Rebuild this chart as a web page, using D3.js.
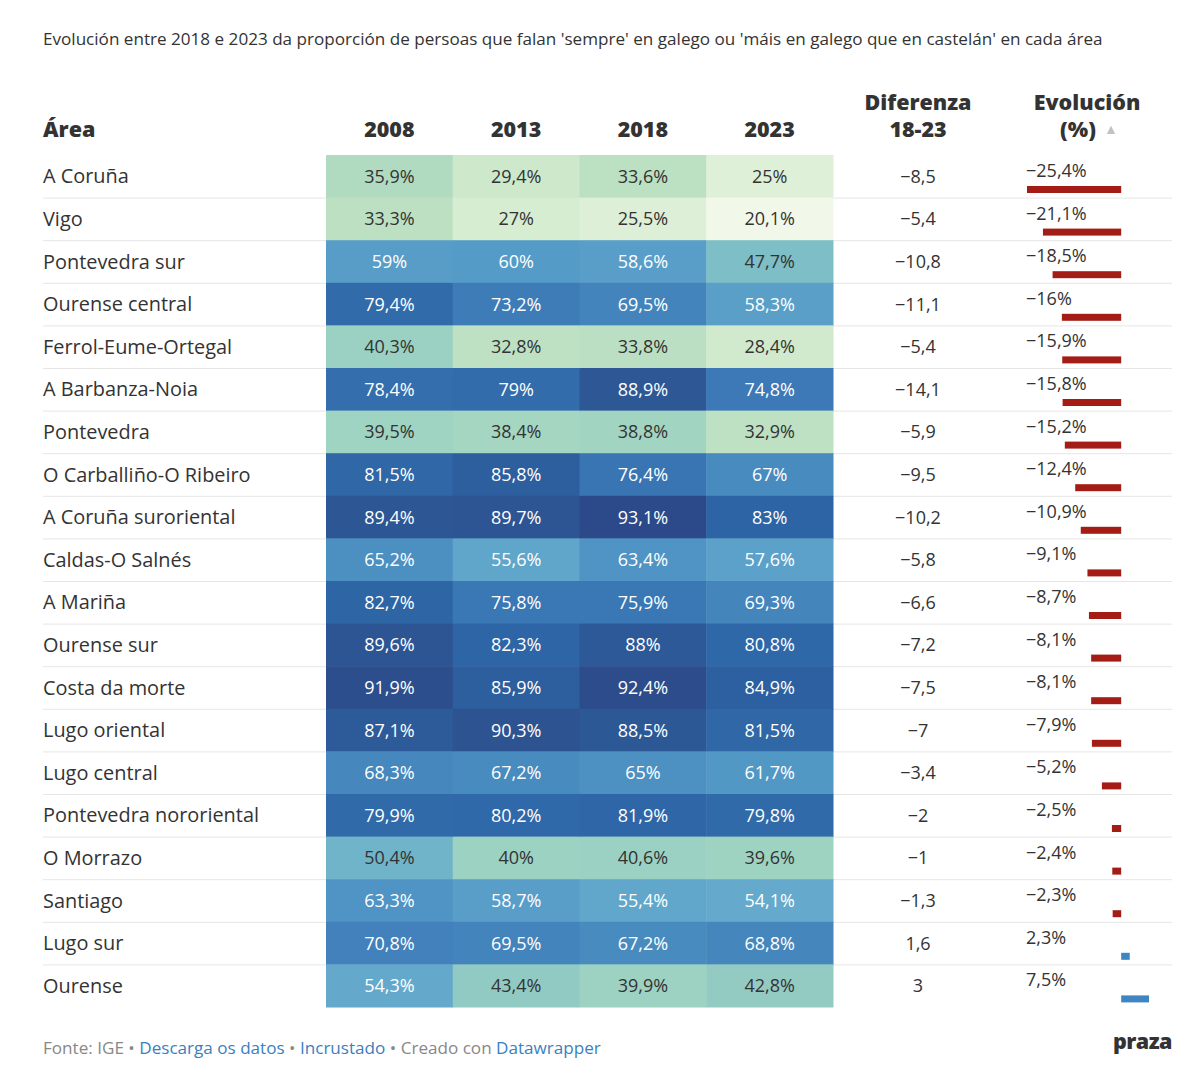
<!DOCTYPE html>
<html lang="gl">
<head>
  <meta charset="UTF-8">
  <title>Galego por áreas</title>
  <style>
    body { margin: 0; background: #fff; }
    svg { display: block; font-family: "Open Sans", "Noto Sans", sans-serif; }
    .sep { stroke: #e6e6e6; stroke-width: 1px; }
    .head { font-weight: 800; font-size: 21.5px; fill: #333; }
  </style>
</head>
<body>
<svg width="1200" height="1081"></svg>

<script src="https://d3js.org/d3.v7.min.js"></script>
<script>
  // datos
  const areas = ["A Coruña", "Vigo", "Pontevedra sur", "Ourense central", "Ferrol-Eume-Ortegal",
    "A Barbanza-Noia", "Pontevedra", "O Carballiño-O Ribeiro", "A Coruña suroriental", "Caldas-O Salnés",
    "A Mariña", "Ourense sur", "Costa da morte", "Lugo oriental", "Lugo central",
    "Pontevedra nororiental", "O Morrazo", "Santiago", "Lugo sur", "Ourense"];
  const years = ["2008", "2013", "2018", "2023"];
  const v2008 = [35.9, 33.3, 59, 79.4, 40.3, 78.4, 39.5, 81.5, 89.4, 65.2, 82.7, 89.6, 91.9, 87.1, 68.3, 79.9, 50.4, 63.3, 70.8, 54.3];
  const v2013 = [29.4, 27, 60, 73.2, 32.8, 79, 38.4, 85.8, 89.7, 55.6, 75.8, 82.3, 85.9, 90.3, 67.2, 80.2, 40, 58.7, 69.5, 43.4];
  const v2018 = [33.6, 25.5, 58.6, 69.5, 33.8, 88.9, 38.8, 76.4, 93.1, 63.4, 75.9, 88, 92.4, 88.5, 65, 81.9, 40.6, 55.4, 67.2, 39.9];
  const v2023 = [25, 20.1, 47.7, 58.3, 28.4, 74.8, 32.9, 67, 83, 57.6, 69.3, 80.8, 84.9, 81.5, 61.7, 79.8, 39.6, 54.1, 68.8, 42.8];
  const diferenza = [-8.5, -5.4, -10.8, -11.1, -5.4, -14.1, -5.9, -9.5, -10.2, -5.8, -6.6, -7.2, -7.5, -7, -3.4, -2, -1, -1.3, 1.6, 3];
  const evolucion = [-25.4, -21.1, -18.5, -16, -15.9, -15.8, -15.2, -12.4, -10.9, -9.1, -8.7, -8.1, -8.1, -7.9, -5.2, -2.5, -2.4, -2.3, 2.3, 7.5];

  const series = [v2008, v2013, v2018, v2023];

  const svg = d3.select("svg");
  const gl = d3.formatLocale({ decimal: ",", thousands: ".", grouping: [3], currency: ["", " €"], minus: "\u2212" });
  const fmt = gl.format(".1~f");

  // escalas
  const rowTop = 155, rowH = 42.6;
  const y = d3.scaleBand().domain(d3.range(areas.length))
    .range([rowTop, rowTop + rowH * areas.length]).padding(0);
  const xCol = d3.scaleBand().domain(years).range([326, 833]).padding(0);
  const xEvo = d3.scaleLinear().domain([-25.4, 7.5]).range([1027, 1149]);

  const color = d3.scaleLinear()
    .domain([20, 27, 33, 36, 40, 43.4, 47.7, 50.4, 54.3, 58.6, 65, 69.5, 75.9, 79.4, 83, 89.4, 93.1])
    .range(["#f1f8ea", "#d7edd1", "#bee1c3", "#b1dbc0", "#9cd2c2", "#91cac3", "#7ebfc7", "#70b4c9",
            "#64a9cc", "#589ec8", "#4c91c2", "#4484bc", "#3a77b5", "#316baa", "#2d64a5", "#2d5694", "#2c4a89"])
    .clamp(true);

  // título
  svg.append("text")
    .attr("x", 43).attr("y", 45)
    .attr("font-size", "17.1px").attr("fill", "#333")
    .text("Evolución entre 2018 e 2023 da proporción de persoas que falan 'sempre' en galego ou 'máis en galego que en castelán' en cada área");

  // cabeceiras
  svg.append("text").attr("class", "head").attr("x", 43).attr("y", 137).text("Área");
  svg.selectAll("text.year").data(years).enter().append("text")
    .attr("class", "head year")
    .attr("x", d => xCol(d) + xCol.bandwidth() / 2)
    .attr("y", 137)
    .attr("text-anchor", "middle")
    .text(d => d);

  const difHead = svg.append("text").attr("class", "head").attr("text-anchor", "middle");
  difHead.append("tspan").attr("x", 918).attr("y", 110).text("Diferenza");
  difHead.append("tspan").attr("x", 918).attr("y", 137).text("18-23");

  const evoHead = svg.append("text").attr("class", "head").attr("text-anchor", "middle");
  evoHead.append("tspan").attr("x", 1087).attr("y", 110).text("Evolución");
  evoHead.append("tspan").attr("x", 1078).attr("y", 137).text("(%)");
  svg.append("text")
    .attr("x", 1104).attr("y", 134)
    .attr("font-size", "14px").attr("fill", "#c2c2c2")
    .text("▲");

  // liñas separadoras
  svg.selectAll("line.sep").data(d3.range(areas.length - 1)).enter().append("line")
    .attr("class", "sep")
    .attr("x1", 43).attr("x2", 1172)
    .attr("y1", i => y(i) + y.bandwidth() + 0.5)
    .attr("y2", i => y(i) + y.bandwidth() + 0.5);

  // nomes das áreas
  svg.selectAll("text.area").data(areas).enter().append("text")
    .attr("class", "area")
    .attr("x", 43)
    .attr("y", (d, i) => y(i) + y.bandwidth() / 2 + 7)
    .attr("font-size", "19.9px")
    .attr("fill", "#333")
    .text(d => d);

  // celas do mapa de calor
  const cells = [];
  series.forEach((s, j) => s.forEach((v, i) => cells.push({ row: i, year: years[j], v })));

  svg.selectAll("rect.cell").data(cells).enter().append("rect")
    .attr("class", "cell")
    .attr("x", d => xCol(d.year))
    .attr("y", d => y(d.row))
    .attr("width", xCol.bandwidth() + 0.5)
    .attr("height", y.bandwidth() + 0.5)
    .attr("fill", d => color(d.v));

  svg.selectAll("text.cell").data(cells).enter().append("text")
    .attr("class", "cell")
    .attr("x", d => xCol(d.year) + xCol.bandwidth() / 2)
    .attr("y", d => y(d.row) + y.bandwidth() / 2 + 6.5)
    .attr("text-anchor", "middle")
    .attr("font-size", "18px")
    .attr("fill", d => d.v >= 52 ? "#fff" : "#333")
    .text(d => fmt(d.v) + "%");

  // diferenza
  svg.selectAll("text.dif").data(diferenza).enter().append("text")
    .attr("class", "dif")
    .attr("x", 918)
    .attr("y", (d, i) => y(i) + y.bandwidth() / 2 + 6.5)
    .attr("text-anchor", "middle")
    .attr("font-size", "18px")
    .attr("fill", "#333")
    .text(d => fmt(d));

  // evolución: etiqueta e barra
  svg.selectAll("text.evo").data(evolucion).enter().append("text")
    .attr("class", "evo")
    .attr("x", 1026)
    .attr("y", (d, i) => y(i) + 22)
    .attr("font-size", "18px")
    .attr("fill", "#333")
    .text(d => fmt(d) + "%");

  svg.selectAll("rect.evo").data(evolucion).enter().append("rect")
    .attr("class", "evo")
    .attr("x", d => Math.min(xEvo(d), xEvo(0)))
    .attr("y", (d, i) => y(i) + 31)
    .attr("width", d => Math.abs(xEvo(d) - xEvo(0)))
    .attr("height", 7)
    .attr("fill", d => d < 0 ? "#a31d16" : "#3d86c1");

  // pé
  const foot = svg.append("text")
    .attr("x", 43).attr("y", 1054)
    .attr("font-size", "17.1px").attr("fill", "#888");
  foot.append("tspan").text("Fonte: IGE • ");
  foot.append("tspan").attr("fill", "#3a7fc1").text("Descarga os datos");
  foot.append("tspan").text(" • ");
  foot.append("tspan").attr("fill", "#3a7fc1").text("Incrustado");
  foot.append("tspan").text(" • Creado con ");
  foot.append("tspan").attr("fill", "#3a7fc1").text("Datawrapper");

  svg.append("text")
    .attr("x", 1172).attr("y", 1049)
    .attr("text-anchor", "end")
    .attr("font-size", "21.5px")
    .attr("font-weight", 800)
    .attr("letter-spacing", "-0.5px")
    .attr("fill", "#333")
    .text("praza");
</script>
</body>
</html>
